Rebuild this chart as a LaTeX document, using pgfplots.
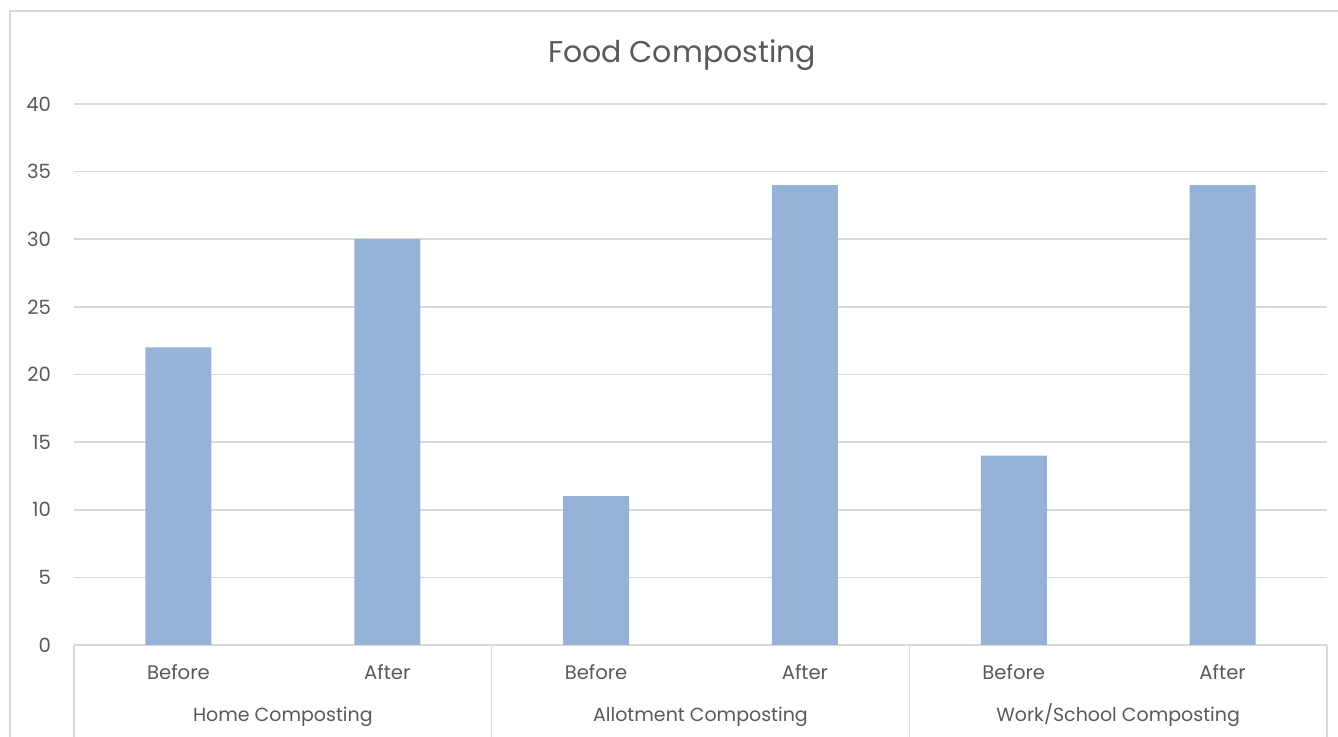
\documentclass[border=0pt]{standalone}
\usepackage{fontspec}
\setmainfont{Poppins}
\usepackage{pgfplots}
\pgfplotsset{compat=1.18}
\definecolor{barc}{HTML}{95B3D7}
\definecolor{gridc}{HTML}{D9D9D9}
\definecolor{txt}{HTML}{595959}
\begin{document}
\begin{tikzpicture}
\path[use as bounding box] (0,0) rectangle (669pt,368.5pt);
\draw[gridc, line width=0.8pt] (5pt,0) -- (5pt,363pt) -- (669pt,363pt);
\begin{axis}[
  at={(37pt,46pt)}, anchor=south west,
  scale only axis, width=626.5pt, height=270.5pt,
  xmin=-0.5, xmax=5.5, ymin=0, ymax=40,
  ytick={0,5,...,40},
  xtick={0,1,2,3,4,5},
  xticklabels={Before,After,Before,After,Before,After},
  ymajorgrids, grid style={gridc, line width=0.8pt},
  axis x line*=bottom, axis y line*=left,
  x axis line style={gridc, line width=0.8pt, -},
  y axis line style={draw=none},
  major tick length=0pt,
  ybar, bar width=33pt,
  /pgf/number format/assume math mode=true,
  tick label style={font=\fontsize{9.8}{11}\selectfont, text=txt},
  yticklabel style={xshift=-8pt},
  xticklabel style={anchor=base, yshift=-17.5pt},
  clip=false,
]
\addplot[fill=barc, draw=none] coordinates {(0,22) (1,30) (2,11) (3,34) (4,14) (5,34)};
\pgfplotsinvokeforeach{-0.5,1.5,3.5,5.5}{
  \draw[gridc, line width=0.8pt] (axis cs:#1,0) -- ([yshift=-46pt]axis cs:#1,0);
}
\node[text=txt, font=\fontsize{9.5}{11}\selectfont, anchor=base] at ([yshift=-38.5pt]axis cs:0.5,0) {Home Composting};
\node[text=txt, font=\fontsize{9.5}{11}\selectfont, anchor=base] at ([yshift=-38.5pt]axis cs:2.5,0) {Allotment Composting};
\node[text=txt, font=\fontsize{9.5}{11}\selectfont, anchor=base] at ([yshift=-38.5pt]axis cs:4.5,0) {Work/School Composting};
\end{axis}
\node[text=txt, font=\fontsize{15}{18}\selectfont] at (341pt,341pt) {Food Composting};
\end{tikzpicture}
\end{document}
